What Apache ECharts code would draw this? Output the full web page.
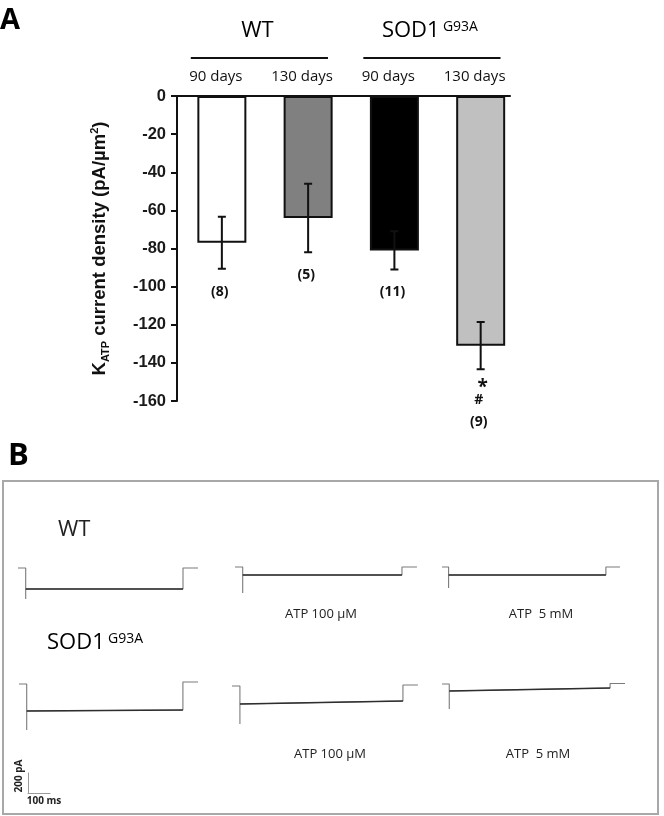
<!DOCTYPE html>
<html><head><meta charset="utf-8">
<script src="https://cdn.jsdelivr.net/npm/echarts@6/dist/echarts.min.js"></script>
<style>html,body{margin:0;padding:0;background:#fff}#c{width:664px;height:816px}</style>
</head><body><div id="c"></div>
<script>
// ---------- Panel A data ----------
const categories = ['90 days', '130 days', '90 days', '130 days'];
const groups = ['WT', 'SOD1'];
const groupSup = ['', 'G93A'];
const groupMembers = [[0, 1], [2, 3]];
const meanDensity = [-77, -64, -81, -131];
const semDensity = [13.6, 18, 10, 12.4];
const sampleSizes = ['(8)', '(5)', '(11)', '(9)'];
const significance = [[], [], [], ['*', '#']];
const barFills = ['#ffffff', '#808080', '#000000', '#c0c0c0'];
const yTickMin = -160, yTickMax = 0, yTickStep = 20;

// ---------- Panel B data: [time (ms), current (pA)] ----------
const wtControl   = [[0, 0], [35, 0], [35, -310], [35, -210], [750, -210], [750, 0], [818, 0]];
const wtAtp100    = [[0, 0], [35, 0], [35, -260], [35, -80], [759, -80], [759, 0], [827, 0]];
const wtAtp5      = [[0, 0], [30, 0], [30, -210], [30, -80], [745, -80], [745, 0], [809, 0]];
const sodControl  = [[0, 0], [35, 0], [35, -460], [35, -270], [745, -260], [745, 20], [814, 20]];
const sodAtp100   = [[0, 0], [36, 0], [36, -380], [36, -180], [777, -150], [777, 10], [845, 10]];
const sodAtp5     = [[0, 0], [33, 0], [33, -250], [33, -70], [764, -40], [764, 5], [832, 5]];
const traceLabels = ['', 'ATP 100 µM', 'ATP  5 mM', '', 'ATP 100 µM', 'ATP  5 mM'];
const scaleBarTime = 100;   // ms
const scaleBarCurrent = 200; // pA

const traces = [wtControl, wtAtp100, wtAtp5, sodControl, sodAtp100, sodAtp5];
const traceGridPos = [[18, 563], [235, 562], [442, 562], [19, 679], [232, 681], [442, 679]];

const chart = echarts.init(document.getElementById('c'), null, {renderer: 'canvas'});

const grids = [{left: 177, top: 96, width: 333, height: 305}];
const xAxes = [{
  type: 'value', gridIndex: 0, min: -0.52, max: 3.34, position: 'top',
  axisLine: {show: true, onZero: false, lineStyle: {color: '#111', width: 2}},
  axisTick: {show: false}, axisLabel: {show: false}, splitLine: {show: false}
}];
const yAxes = [{
  type: 'value', gridIndex: 0, min: yTickMin, max: yTickMax, interval: yTickStep,
  name: '{b|K}{s|ATP}{b| current density (pA/µm}{p|2}{b|)}',
  nameLocation: 'middle', nameGap: 66, nameRotate: 90,
  nameTextStyle: {
    rich: {
      b: {fontFamily: 'Liberation Sans', fontWeight: 'bold', fontSize: 18.5, color: '#111', lineHeight: 22, verticalAlign: 'middle'},
      s: {fontFamily: 'Liberation Sans', fontWeight: 'bold', fontSize: 11, color: '#111', lineHeight: 11, verticalAlign: 'bottom'},
      p: {fontFamily: 'Liberation Sans', fontWeight: 'bold', fontSize: 11, color: '#111', lineHeight: 11, verticalAlign: 'top'}
    }
  },
  axisLine: {show: true, onZero: false, lineStyle: {color: '#111', width: 2}},
  axisTick: {show: true, length: 6, lineStyle: {color: '#111', width: 2}},
  axisLabel: {margin: 11, fontFamily: 'Liberation Sans', fontWeight: 'bold', fontSize: 16.5, color: '#1a1a1a'},
  splitLine: {show: false}
}];

const series = [];

series.push({
  type: 'bar', xAxisIndex: 0, yAxisIndex: 0, barWidth: 49, z: 2,
  data: meanDensity.map((v, i) => ({value: [i, v], itemStyle: {color: barFills[i]}})),
  itemStyle: {borderColor: '#111', borderWidth: 2},
  animation: false
});

// error bars (path) + annotations
series.push({
  type: 'custom', xAxisIndex: 0, yAxisIndex: 0, z: 5, animation: false,
  data: meanDensity.map((v, i) => [i, v - semDensity[i], v + semDensity[i]]),
  renderItem: function (params, api) {
    const i = api.value(0);
    const b = api.coord([i, api.value(1)]), t = api.coord([i, api.value(2)]);
    const x = t[0];
    const d = 'M' + x + ' ' + t[1] + 'L' + x + ' ' + b[1] +
              'M' + (x - 4) + ' ' + t[1] + 'L' + (x + 4) + ' ' + t[1] +
              'M' + (x - 4) + ' ' + b[1] + 'L' + (x + 4) + ' ' + b[1];
    const ch = [{type: 'path', shape: {pathData: d}, style: {fill: null, stroke: '#111', lineWidth: 2}}];
    const marks = significance[params.dataIndex];
    marks.forEach(function (mk) {
      ch.push({type: 'text', style: {text: mk, x: x + (mk === '*' ? 2 : -2), y: b[1] + (mk === '*' ? 18 : 31),
        align: 'center', verticalAlign: 'middle', fontFamily: 'Open Sans', fontWeight: 'bold',
        fontSize: mk === '*' ? 19 : 14, fill: '#111'}});
    });
    ch.push({type: 'text', style: {text: sampleSizes[params.dataIndex], x: x - 2,
      y: b[1] + (marks.length ? 53 : 23), align: 'center', verticalAlign: 'middle',
      fontFamily: 'Open Sans', fontWeight: 'bold', fontSize: 14, fill: '#111'}});
    return {type: 'group', children: ch};
  }
});

// category labels
series.push({
  type: 'custom', xAxisIndex: 0, yAxisIndex: 0, z: 5, animation: false,
  data: categories.map((c, i) => [i, 0]),
  renderItem: function (params, api) {
    const p = api.coord([api.value(0) - 0.07, 0]);
    return {type: 'text', style: {text: categories[params.dataIndex], x: p[0], y: p[1] - 19,
      align: 'center', verticalAlign: 'middle', fontFamily: 'Open Sans', fontSize: 15, fill: '#111'}};
  }
});

// group headers
series.push({
  type: 'custom', xAxisIndex: 0, yAxisIndex: 0, z: 5, animation: false,
  data: groups.map((g, i) => [groupMembers[i][0], 0]),
  renderItem: function (params, api) {
    const gi = params.dataIndex, mem = groupMembers[gi];
    const p0 = api.coord([mem[0] - 0.36, 0]), p1 = api.coord([mem[1] + 0.23, 0]);
    const y = p0[1];
    const txt = groupSup[gi] ? '{a|' + groups[gi] + '} {s|' + groupSup[gi] + '}' : '{a|' + groups[gi] + '}';
    return {type: 'group', children: [
      {type: 'path', shape: {pathData: 'M' + p0[0] + ' ' + (y - 38) + 'L' + p1[0] + ' ' + (y - 38)}, style: {fill: null, stroke: '#111', lineWidth: 2}},
      {type: 'text', style: {text: txt, x: (p0[0] + p1[0]) / 2 - 2, y: y - 63, align: 'center', verticalAlign: 'middle',
        rich: {
          a: {fontFamily: 'Open Sans', fontSize: 22, lineHeight: 26, color: '#111', verticalAlign: 'top'},
          s: {fontFamily: 'Open Sans', fontSize: 14, lineHeight: 18, color: '#111', verticalAlign: 'top'}
        }}}
    ]};
  }
});

// ---------- Panel B trace grids ----------
traces.forEach(function (tr, k) {
  const gi = grids.length;
  grids.push({left: traceGridPos[k][0], top: traceGridPos[k][1], width: 198, height: 55});
  xAxes.push({type: 'value', gridIndex: gi, min: 0, max: 900, show: false});
  yAxes.push({type: 'value', gridIndex: gi, min: -500, max: 50, show: false});
  series.push({type: 'line', xAxisIndex: gi, yAxisIndex: gi, data: tr, showSymbol: false, symbol: 'none',
    lineStyle: {color: '#7a7a7a', width: 1.1}, animation: false, clip: false, z: 3});
  series.push({type: 'line', xAxisIndex: gi, yAxisIndex: gi, data: tr.slice(3, 5), showSymbol: false, symbol: 'none',
    lineStyle: {color: '#2e2e2e', width: 1.7}, animation: false, clip: false, z: 4});
});

// scale bar
(function () {
  const gi = grids.length;
  grids.push({left: 28, top: 773, width: 22, height: 20});
  xAxes.push({type: 'value', gridIndex: gi, min: 0, max: scaleBarTime,
    name: scaleBarTime + ' ms', nameLocation: 'middle', nameGap: 3,
    nameTextStyle: {fontFamily: 'Open Sans', fontWeight: 'bold', fontSize: 10, color: '#222', padding: [0, 0, 0, 10]},
    axisLine: {show: true, onZero: false, lineStyle: {color: '#9a9a9a', width: 1}},
    axisTick: {show: false}, axisLabel: {show: false}, splitLine: {show: false}});
  yAxes.push({type: 'value', gridIndex: gi, min: 0, max: scaleBarCurrent,
    name: scaleBarCurrent + ' pA', nameLocation: 'middle', nameGap: 4, nameRotate: 90,
    nameTextStyle: {fontFamily: 'Open Sans', fontWeight: 'bold', fontSize: 10, color: '#222', padding: [0, 0, 0, 14]},
    axisLine: {show: true, onZero: false, lineStyle: {color: '#9a9a9a', width: 1}},
    axisTick: {show: false}, axisLabel: {show: false}, splitLine: {show: false}});
})();

const labelPos = [null, [321, 614], [541, 614], null, [330, 754], [538, 754]];
const graphics = [
  {type: 'text', left: 0, top: 6, style: {text: 'A', fontFamily: 'Open Sans', fontWeight: 'bold', fontSize: 29, fill: '#000'}},
  {type: 'text', left: 8, top: 441, style: {text: 'B', fontFamily: 'Open Sans', fontWeight: 'bold', fontSize: 31, fill: '#000'}},
  {type: 'rect', shape: {x: 3, y: 481, width: 655, height: 333}, style: {fill: 'none', stroke: '#a8a8a8', lineWidth: 2}, z: 0},
  {type: 'text', x: 58, y: 530, style: {text: 'WT', fontFamily: 'Open Sans', fontSize: 22, fill: '#222', verticalAlign: 'middle'}},
  {type: 'text', x: 47, y: 645, style: {text: '{a|SOD1} {s|G93A}', verticalAlign: 'middle',
    rich: {
      a: {fontFamily: 'Open Sans', fontSize: 22, lineHeight: 26, color: '#222', verticalAlign: 'top'},
      s: {fontFamily: 'Open Sans', fontSize: 14, lineHeight: 18, color: '#222', verticalAlign: 'top'}
    }}}
];
traceLabels.forEach(function (t, k) {
  if (!t) return;
  graphics.push({type: 'text', x: labelPos[k][0], y: labelPos[k][1],
    style: {text: t, fontFamily: 'Open Sans', fontSize: 13, fill: '#222', align: 'center', verticalAlign: 'middle'}});
});

chart.setOption({
  backgroundColor: '#ffffff',
  animation: false,
  textStyle: {fontFamily: 'Open Sans'},
  grid: grids, xAxis: xAxes, yAxis: yAxes, series: series, graphic: graphics
});
</script></body></html>
